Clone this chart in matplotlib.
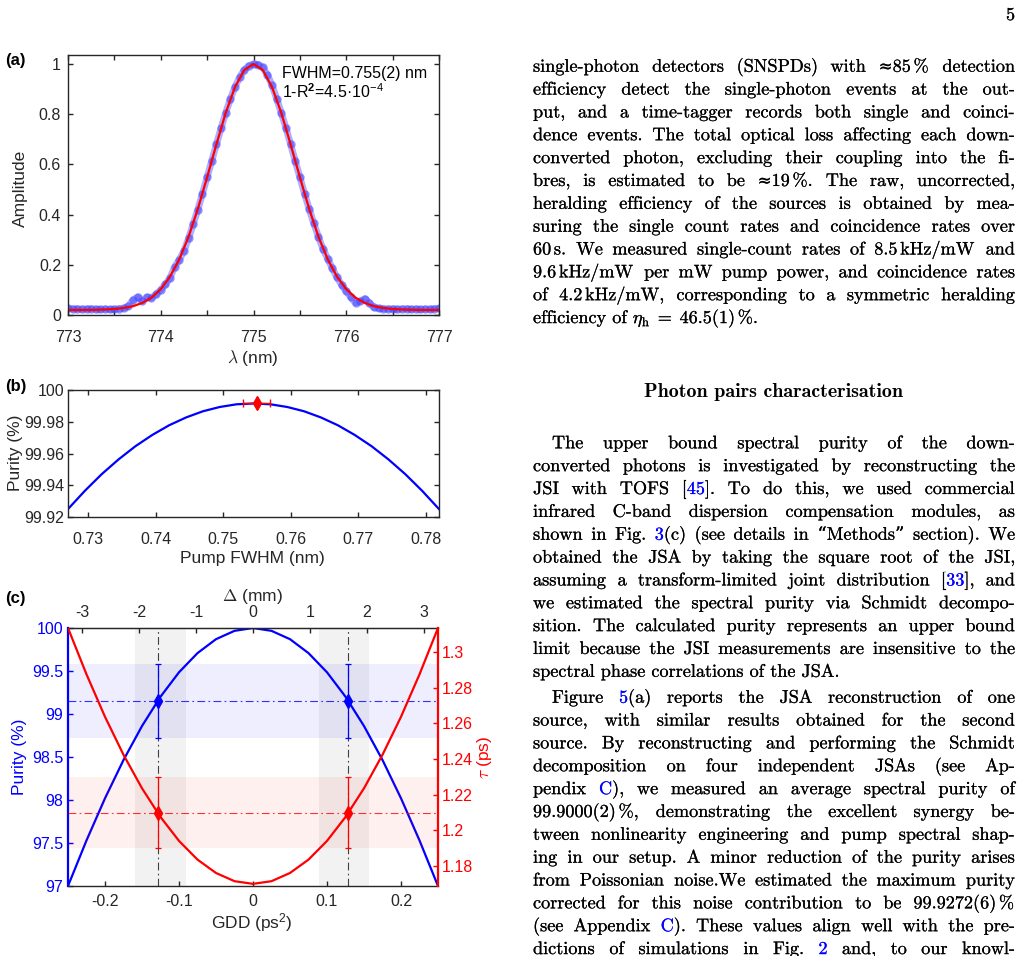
import re
import numpy as np
import matplotlib
matplotlib.use("Agg")
import matplotlib.pyplot as plt
import matplotlib.patheffects as pe

# ---------------- data ----------------
# (a) pump spectrum: measured amplitude (blue dots) and Gaussian fit (red)
A_LAMBDA = np.linspace(773.0, 777.0, 81)
A_DATA = [0.026, 0.024, 0.025, 0.023, 0.024, 0.025, 0.023, 0.022, 0.024, 0.022,
          0.023, 0.025, 0.027, 0.035, 0.060, 0.072, 0.055, 0.072, 0.068, 0.082,
          0.100, 0.122, 0.148, 0.192, 0.220, 0.255, 0.305, 0.362, 0.420, 0.484,
          0.549, 0.614, 0.680, 0.744, 0.805, 0.860, 0.908, 0.947, 0.976, 0.994,
          1.000, 0.998, 0.987, 0.958, 0.915, 0.862, 0.805, 0.745, 0.680, 0.614,
          0.549, 0.484, 0.423, 0.365, 0.312, 0.262, 0.224, 0.186, 0.150, 0.120,
          0.095, 0.070, 0.048, 0.055, 0.065, 0.048, 0.030, 0.026, 0.025, 0.024,
          0.025, 0.023, 0.024, 0.025, 0.023, 0.024, 0.022, 0.024, 0.023, 0.025,
          0.026]
A_FIT_LAMBDA = np.linspace(773.0, 777.0, 41)
A_FIT = [0.020, 0.020, 0.020, 0.021, 0.022, 0.024, 0.028, 0.035, 0.048, 0.069,
         0.103, 0.153, 0.222, 0.312, 0.423, 0.549, 0.680, 0.805, 0.908, 0.976,
         1.000, 0.976, 0.908, 0.805, 0.680, 0.549, 0.423, 0.312, 0.222, 0.153,
         0.103, 0.069, 0.048, 0.035, 0.028, 0.024, 0.022, 0.021, 0.020, 0.020,
         0.020]
A_XTICKS = [773, 774, 775, 776, 777]
A_XTICK_LABELS = ["773", "774", "775", "776", "777"]
A_XMINOR = [773.5, 774.5, 775.5, 776.5]
A_YTICKS = [0, 0.2, 0.4, 0.6, 0.8, 1.0]
A_YTICK_LABELS = ["0", "0.2", "0.4", "0.6", "0.8", "1"]

# (b) purity vs pump FWHM
B_FWHM = np.linspace(0.727, 0.782, 23)
B_PURITY = [99.9250, 99.9365, 99.9470, 99.9563, 99.9646, 99.9717, 99.9778, 99.9827,
            99.9866, 99.9893, 99.9910, 99.9915, 99.9910, 99.9893, 99.9866, 99.9827,
            99.9778, 99.9717, 99.9646, 99.9563, 99.9470, 99.9365, 99.9250]
B_MEAS_FWHM = [0.755]
B_MEAS_PURITY = [99.9915]
B_MEAS_ERR = [0.002]
B_XTICKS = [0.73, 0.74, 0.75, 0.76, 0.77, 0.78]
B_XTICK_LABELS = ["0.73", "0.74", "0.75", "0.76", "0.77", "0.78"]
B_YTICKS = [99.92, 99.94, 99.96, 99.98, 100.0]
B_YTICK_LABELS = ["99.92", "99.94", "99.96", "99.98", "100"]

# (c) purity and pulse width vs GDD
C_GDD = np.linspace(-0.25, 0.25, 21)
C_PURITY = [97.000, 97.530, 98.020, 98.465, 98.860, 99.201, 99.485, 99.708, 99.870,
            99.967, 100.000, 99.967, 99.870, 99.708, 99.485, 99.201, 98.860, 98.465,
            98.020, 97.530, 97.000]
C_TAU = [1.3135, 1.2875, 1.2637, 1.2424, 1.2236, 1.2075, 1.1941, 1.1836, 1.1761,
         1.1715, 1.1700, 1.1715, 1.1761, 1.1836, 1.1941, 1.2075, 1.2236, 1.2424,
         1.2637, 1.2875, 1.3135]
C_MEAS_GDD = [-0.129, 0.129]
C_MEAS_PURITY = [99.15, 99.15]
C_MEAS_PURITY_ERR = [0.43, 0.43]
C_MEAS_TAU = [1.21, 1.21]
C_MEAS_TAU_ERR = [0.02, 0.02]
C_GDD_BANDS = [(-0.159, -0.091), (0.089, 0.157)]
MM_PER_PS2 = 13.0
C_XTICKS = [-0.2, -0.1, 0.0, 0.1, 0.2]
C_XTICK_LABELS = ["-0.2", "-0.1", "0", "0.1", "0.2"]
C_TOP_TICKS = [-3, -2, -1, 0, 1, 2, 3]
C_TOP_LABELS = ["-3", "-2", "-1", "0", "1", "2", "3"]
C_YTICKS = [97, 97.5, 98, 98.5, 99, 99.5, 100]
C_YTICK_LABELS = ["97", "97.5", "98", "98.5", "99", "99.5", "100"]
C_TAU_TICKS = [1.18, 1.20, 1.22, 1.24, 1.26, 1.28, 1.30]
C_TAU_LABELS = ["1.18", "1.2", "1.22", "1.24", "1.26", "1.28", "1.3"]

# right column of the page; #...# marks blue cross-references
BLOCK1 = [
    "single-photon detectors (SNSPDs) with \u224885$\\,$% detection",
    "efficiency detect the single-photon events at the out-",
    "put, and a time-tagger records both single and coinci-",
    "dence events. The total optical loss affecting each down-",
    "converted photon, excluding their coupling into the fi-",
    "bres, is estimated to be \u224819$\\,$%. The raw, uncorrected,",
    "heralding efficiency of the sources is obtained by mea-",
    "suring the single count rates and coincidence rates over",
    r"60$\,$s. We measured single-count rates of 8.5$\,$kHz/mW and",
    r"9.6$\,$kHz/mW per mW pump power, and coincidence rates",
    r"of 4.2$\,$kHz/mW, corresponding to a symmetric heralding",
    r"efficiency of $\eta_{\mathrm{h}}\;=\;46.5(1)\,\%$.",
]
HEADING = "Photon pairs characterisation"
PARA2 = [
    "The upper bound spectral purity of the down-",
    "converted photons is investigated by reconstructing the",
    "JSI with TOFS [#45#]. To do this, we used commercial",
    "infrared C-band dispersion compensation modules, as",
    "shown in Fig. #3#(c) (see details in \u201cMethods\u201d section). We",
    "obtained the JSA by taking the square root of the JSI,",
    "assuming a transform-limited joint distribution [#33#], and",
    "we estimated the spectral purity via Schmidt decompo-",
    "sition. The calculated purity represents an upper bound",
    "limit because the JSI measurements are insensitive to the",
    "spectral phase correlations of the JSA.",
]
PARA3 = [
    "Figure #5#(a) reports the JSA reconstruction of one",
    "source, with similar results obtained for the second",
    "source. By reconstructing and performing the Schmidt",
    "decomposition on four independent JSAs (see Ap-",
    "pendix #C#), we measured an average spectral purity of",
    r"99.9000(2)$\,$%, demonstrating the excellent synergy be-",
    "tween nonlinearity engineering and pump spectral shap-",
    "ing in our setup. A minor reduction of the purity arises",
    "from Poissonian noise.We estimated the maximum purity",
    r"corrected for this noise contribution to be 99.9272(6)$\,$%",
    "(see Appendix #C#). These values align well with the pre-",
    "dictions of simulations in Fig. #2# and, to our knowl-",
]

# ---------------- style ----------------
plt.rcParams["font.family"] = ["Liberation Sans", "DejaVu Sans"]
plt.rcParams["mathtext.fontset"] = "custom"
plt.rcParams["mathtext.rm"] = "Liberation Sans"
plt.rcParams["mathtext.it"] = "Liberation Sans:italic"
plt.rcParams["mathtext.bf"] = "Liberation Sans:bold"
AXC = "#262626"
TICK_FS = 11.5
LABEL_FS = 12.5
BODY = ["cmr10", "DejaVu Serif"]
BODY_FS = 13.1
LINK = "#0000ff"

W, H = 1029, 956
fig = plt.figure(figsize=(W / 100, H / 100), dpi=100)


def box(x0, y0, x1, y1):
    return [x0 / W, 1 - y1 / H, (x1 - x0) / W, (y1 - y0) / H]


def put(x, y, s, **kw):
    return fig.text(x / W, 1 - y / H, s, **kw)


def style(ax, xpad, ypad):
    for s in ax.spines.values():
        s.set_color(AXC)
        s.set_linewidth(1.0)
    ax.tick_params(which="both", direction="in", top=True, right=True, length=3.6,
                   width=1.0, colors=AXC, labelsize=TICK_FS)
    ax.tick_params(axis="x", pad=xpad)
    ax.tick_params(axis="y", pad=ypad)


# ---------------- (a) ----------------
ax_a = fig.add_axes(box(68, 55, 439, 315))
ax_a.plot(A_LAMBDA, A_DATA, color=(0.3, 0.3, 1.0), lw=5, alpha=0.45)
ax_a.plot(A_LAMBDA, A_DATA, "o", ms=6, color=(0.25, 0.25, 1.0), alpha=0.55, mec="none")
ax_a.plot(A_FIT_LAMBDA, A_FIT, color="red", lw=1.6)
ax_a.set_xlim(773, 777)
ax_a.set_ylim(0, 1.036)
ax_a.set_xticks(A_XTICKS, A_XTICK_LABELS)
ax_a.set_xticks(A_XMINOR, minor=True)
ax_a.set_yticks(A_YTICKS, A_YTICK_LABELS)
style(ax_a, 10.5, 5)
ax_a.text(775.31, 0.946, "FWHM=0.755(2) nm", fontsize=TICK_FS, color="black", va="baseline")
ax_a.text(775.31, 0.866, "1-R$^{\\mathbf{2}}$=4.5\u00b710$^{-4}$", fontsize=TICK_FS,
          color="black", va="baseline")
put(5, 60, "(a)", fontsize=12, fontweight="bold", va="center")
put(20, 188, "Amplitude", fontsize=LABEL_FS, rotation=90, ha="center", va="center", color=AXC)
put(253, 358, r"$\lambda$ (nm)", fontsize=LABEL_FS, ha="center", va="center", color=AXC,
    math_fontfamily="cm")

# ---------------- (b) ----------------
ax_b = fig.add_axes(box(68, 390, 439, 517))
ax_b.plot(B_FWHM, B_PURITY, color="blue", lw=1.6)
ax_b.errorbar(B_MEAS_FWHM, B_MEAS_PURITY, xerr=B_MEAS_ERR, fmt="d", color="red", ms=7,
              capsize=3, elinewidth=1, capthick=1)
ax_b.set_xlim(0.727, 0.782)
ax_b.set_ylim(99.92, 100.0)
ax_b.set_xticks(B_XTICKS, B_XTICK_LABELS)
ax_b.set_yticks(B_YTICKS, B_YTICK_LABELS)
style(ax_b, 11, 2.5)
put(5, 387, "(b)", fontsize=12, fontweight="bold", va="center")
put(16, 453, "Purity (%)", fontsize=LABEL_FS, rotation=90, ha="center", va="center", color=AXC)
put(252, 559, "Pump FWHM (nm)", fontsize=LABEL_FS, ha="center", va="center", color=AXC)

# ---------------- (c) ----------------
ax_c = fig.add_axes(box(68, 628, 438, 886))
for g0, g1 in C_GDD_BANDS:
    ax_c.axvspan(g0, g1, color="0.5", alpha=0.1, lw=0, zorder=0)
ax_c.axhspan(C_MEAS_PURITY[0] - C_MEAS_PURITY_ERR[0], C_MEAS_PURITY[0] + C_MEAS_PURITY_ERR[0],
             color="blue", alpha=0.065, lw=0, zorder=0)
DASHDOT = (0, (7, 3, 1.5, 3))
ax_c.axhline(C_MEAS_PURITY[0], color="blue", ls=DASHDOT, lw=0.8, alpha=0.8)
for g in C_MEAS_GDD:
    ax_c.axvline(g, color="0.25", ls=DASHDOT, lw=0.8)
ax_c.plot(C_GDD, C_PURITY, color="blue", lw=1.6)
ax_c.errorbar(C_MEAS_GDD, C_MEAS_PURITY, yerr=C_MEAS_PURITY_ERR, fmt="d", color="blue",
              ms=7.5, capsize=2.4, elinewidth=0.9, capthick=0.9)
ax_c.set_xlim(-0.25, 0.25)
ax_c.set_ylim(97, 100)
ax_c.set_xticks(C_XTICKS, C_XTICK_LABELS)
ax_c.set_yticks(C_YTICKS, C_YTICK_LABELS)
for s in ax_c.spines.values():
    s.set_color(AXC)
    s.set_linewidth(1.0)
ax_c.spines["left"].set_color("blue")
ax_c.spines["left"].set_linewidth(1.6)
ax_c.spines["right"].set_visible(False)
ax_c.tick_params(axis="x", direction="in", top=False, length=3.6, width=1.0, colors=AXC,
                 labelsize=TICK_FS, pad=5.5)
ax_c.tick_params(axis="y", direction="in", right=False, length=3.6, width=1.0, colors="blue",
                 labelsize=TICK_FS, pad=3.5)

ax_t = ax_c.twinx()
ax_t.axhspan(C_MEAS_TAU[0] - C_MEAS_TAU_ERR[0], C_MEAS_TAU[0] + C_MEAS_TAU_ERR[0],
             color="red", alpha=0.06, lw=0, zorder=0)
ax_t.axhline(C_MEAS_TAU[0], color="red", ls=DASHDOT, lw=0.8, alpha=0.8)
ax_t.plot(C_GDD, C_TAU, color="red", lw=1.6)
ax_t.errorbar(C_MEAS_GDD, C_MEAS_TAU, yerr=C_MEAS_TAU_ERR, fmt="d", color="red",
              ms=7.5, capsize=2.4, elinewidth=0.9, capthick=0.9)
ax_t.set_ylim(1.1688, 1.3135)
ax_t.set_yticks(C_TAU_TICKS, C_TAU_LABELS)
for side in ("left", "top", "bottom"):
    ax_t.spines[side].set_visible(False)
ax_t.spines["right"].set_color("red")
ax_t.spines["right"].set_linewidth(1.6)
ax_t.tick_params(axis="y", direction="in", length=3.6, width=1.0, colors="red",
                 labelsize=TICK_FS, pad=3)

sec = ax_c.secondary_xaxis("top", functions=(lambda g: g * MM_PER_PS2,
                                             lambda d: d / MM_PER_PS2))
sec.set_xticks(C_TOP_TICKS, C_TOP_LABELS)
sec.spines["top"].set_color(AXC)
sec.tick_params(direction="in", length=3.6, width=1.0, colors=AXC, labelsize=TICK_FS, pad=5.5)

put(5, 598, "(c)", fontsize=12, fontweight="bold", va="center")
put(252, 596, r"$\Delta$ (mm)", fontsize=LABEL_FS, ha="center", va="center", color=AXC,
    math_fontfamily="cm")
put(20, 757, "Purity (%)", fontsize=LABEL_FS, rotation=90, ha="center", va="center", color="blue")
put(485, 757, r"$\tau$ (ps)", fontsize=LABEL_FS, rotation=90, ha="center", va="center",
    color="red", math_fontfamily="cm")
put(252, 923, "GDD (ps$^2$)", fontsize=LABEL_FS, ha="center", va="center", color=AXC)

# ---------------- right column text ----------------
renderer = fig.canvas.get_renderer()
TOKEN = re.compile(r"(?:\$[^$]*\$|\S)+")
SEGMENT = re.compile(r"(#[^#]*#|\u2248)")
COL_X0, COL_X1 = 533, 1015
INDENT = 19
LEAD = 22.85
SPACE = 6.0


def ink(color):
    return [pe.withStroke(linewidth=0.15, foreground=color)]


def text_line(line, y, x0, justify):
    words = []
    for tok in TOKEN.findall(line):
        parts = []
        for seg in SEGMENT.split(tok):
            if not seg:
                continue
            color, family, size = "black", BODY, BODY_FS
            if seg.startswith("#"):
                seg, color = seg.strip("#"), LINK
            elif seg == "\u2248":
                family, size = ["DejaVu Serif"], BODY_FS * 0.92
            t = put(0, y, seg, fontfamily=family, fontsize=size, va="baseline",
                    color=color, math_fontfamily="cm", path_effects=ink(color))
            parts.append((t, t.get_window_extent(renderer).width))
        words.append(parts)
    widths = [sum(w for _, w in p) for p in words]
    gap = SPACE
    if justify and len(words) > 1:
        gap = (COL_X1 - x0 - sum(widths)) / (len(words) - 1)
    x = x0
    for parts in words:
        for t, w in parts:
            t.set_x(x / W)
            x += w
        x += gap


def paragraph(lines, y0, indent, ends):
    for i, line in enumerate(lines):
        last = i == len(lines) - 1
        x0 = COL_X0 + (INDENT if (indent and i == 0) else 0)
        text_line(line, y0 + i * LEAD, x0, not (last and ends))


put(1015, 20, "5", fontfamily=BODY, fontsize=BODY_FS, ha="right", va="baseline",
    path_effects=ink("black"))
paragraph(BLOCK1, 71.7, False, True)
put(773, 396.7, HEADING, fontfamily=["cmb10", "DejaVu Serif"], fontsize=14.4,
    ha="center", va="baseline")
paragraph(PARA2, 448.3, True, True)
paragraph(PARA3, 702.7, True, False)

fig.savefig("out.png", dpi=100, facecolor="white")
